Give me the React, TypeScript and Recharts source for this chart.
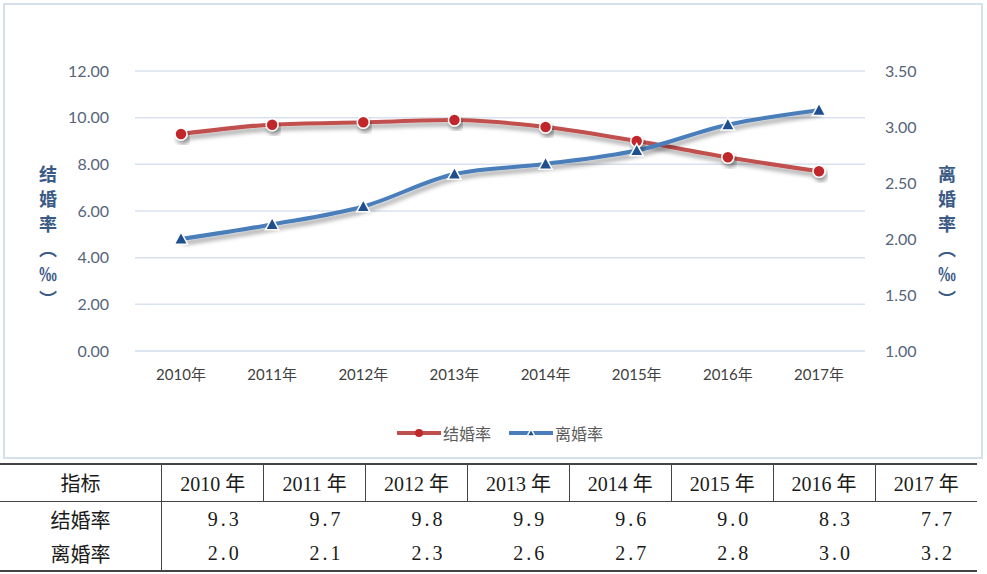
import { LineChart, Line, XAxis, YAxis, CartesianGrid, Legend } from 'recharts';

const years = ['2010年', '2011年', '2012年', '2013年', '2014年', '2015年', '2016年', '2017年'];
const marriageRate = [9.3, 9.7, 9.8, 9.9, 9.6, 9.0, 8.3, 7.7];
const divorceRate = [2.0, 2.13, 2.29, 2.58, 2.67, 2.79, 3.02, 3.15];
const leftTicks = [0, 2, 4, 6, 8, 10, 12];
const rightTicks = [1, 1.5, 2, 2.5, 3, 3.5];

const tableHeaders = ['2010 年', '2011 年', '2012 年', '2013 年', '2014 年', '2015 年', '2016 年', '2017 年'];
const marriageText = ['9.3', '9.7', '9.8', '9.9', '9.6', '9.0', '8.3', '7.7'];
const divorceText = ['2.0', '2.1', '2.3', '2.6', '2.7', '2.8', '3.0', '3.2'];

const data = years.map((y, i) => ({ year: y, marriage: marriageRate[i], divorce: divorceRate[i] }));

const RED = '#c0504d';
const RED_DOT = '#c0282a';
const BLUE = '#4a7ebb';
const BLUE_DOT = '#1f4f8f';
const AXIS_FONT = 'Lato, "Noto Sans CJK SC", sans-serif';
const TABLE_FONT = '"Liberation Serif", "Noto Sans CJK SC", serif';

const Triangle = (props: any) => {
  const { cx, cy, size = 7 } = props;
  if (cx == null || cy == null) return null;
  return (
    <path
      d={`M${cx},${cy - size} L${cx + size * 0.95},${cy + size * 0.75} L${cx - size * 0.95},${cy + size * 0.75} Z`}
      fill={BLUE_DOT}
      stroke="#fff"
      strokeWidth={1.5}
    />
  );
};

const LegendContent = () => (
  <div style={{ display: 'flex', justifyContent: 'center', alignItems: 'center', fontFamily: AXIS_FONT, fontSize: 16, color: '#5b5b5b' }}>
    <svg width={44} height={14}>
      <line x1={0} y1={7} x2={44} y2={7} stroke={RED} strokeWidth={4} />
      <circle cx={22} cy={7} r={4} fill={RED_DOT} />
    </svg>
    <span style={{ marginLeft: 2, marginRight: 18 }}>结婚率</span>
    <svg width={44} height={14}>
      <line x1={0} y1={7} x2={44} y2={7} stroke={BLUE} strokeWidth={4} />
      <Triangle cx={22} cy={7} size={4} />
    </svg>
    <span style={{ marginLeft: 2 }}>离婚率</span>
  </div>
);

const vLabel: React.CSSProperties = {
  position: 'absolute',
  writingMode: 'vertical-rl',
  textOrientation: 'upright',
  fontFamily: '"Noto Sans CJK SC", sans-serif',
  fontSize: 18,
  fontWeight: 600,
  color: '#3b5a86',
  letterSpacing: 7,
};

const cell: React.CSSProperties = { fontFamily: TABLE_FONT, fontSize: 20, color: '#1a1a1a', padding: 0 };

export default function App() {
  return (
    <div style={{ position: 'absolute', left: 0, top: 0, width: 987, height: 574, background: '#fff' }}>
      <div
        style={{
          position: 'absolute',
          left: 3,
          top: 3,
          width: 976,
          height: 452,
          border: '2px solid #d6e0ec',
        }}
      >
        <LineChart width={976} height={452} data={data} margin={{ top: 66, right: 46, left: 60, bottom: 52 }}>
          <defs>
            <filter id="shadow" x="-10%" y="-20%" width="130%" height="160%">
              <feDropShadow dx={2} dy={4} stdDeviation={2} floodColor="#000" floodOpacity={0.35} />
            </filter>
          </defs>
          <CartesianGrid yAxisId="left" vertical={false} stroke="#d9e2ee" strokeWidth={1.5} />
          <XAxis
            dataKey="year"
            padding={{ left: 46, right: 46 }}
            tickLine={false}
            axisLine={{ stroke: '#d9e2ee', strokeWidth: 1.5 }}
            tick={{ fontSize: 15, fill: '#404040', fontFamily: AXIS_FONT }}
            tickMargin={12}
            height={30}
          />
          <YAxis
            yAxisId="left"
            domain={[0, 12]}
            ticks={leftTicks}
            tickFormatter={(v: number) => v.toFixed(2)}
            tickLine={false}
            axisLine={false}
            tick={{ fontSize: 16, fill: '#56657a', fontFamily: AXIS_FONT }}
            tickMargin={20}
            width={70}
          />
          <YAxis
            yAxisId="right"
            orientation="right"
            domain={[1, 3.5]}
            ticks={rightTicks}
            tickFormatter={(v: number) => v.toFixed(2)}
            tickLine={false}
            axisLine={false}
            tick={{ fontSize: 16, fill: '#56657a', fontFamily: AXIS_FONT }}
            tickMargin={14}
            width={70}
          />
          <Legend
            verticalAlign="bottom"
            content={<LegendContent />}
            wrapperStyle={{ bottom: 12 }}
          />
          <Line
            yAxisId="left"
            type="monotone"
            dataKey="marriage"
            stroke={RED}
            strokeWidth={4}
            filter="url(#shadow)"
            dot={{ r: 6, fill: RED_DOT, stroke: '#fff', strokeWidth: 1.5 }}
            isAnimationActive={false}
          />
          <Line
            yAxisId="right"
            type="monotone"
            dataKey="divorce"
            stroke={BLUE}
            strokeWidth={4}
            filter="url(#shadow)"
            dot={<Triangle />}
            isAnimationActive={false}
          />
        </LineChart>
        <div style={{ ...vLabel, left: 30, top: 160 }}>结婚率（‰）</div>
        <div style={{ ...vLabel, left: 929, top: 160 }}>离婚率（‰）</div>
      </div>
      <table
        style={{
          position: 'absolute',
          left: 0,
          top: 463,
          width: 977,
          borderCollapse: 'collapse',
          borderTop: '2px solid #444',
          borderBottom: '2px solid #444',
        }}
      >
        <colgroup>
          <col style={{ width: 162 }} />
          {tableHeaders.map((h) => (
            <col key={h} style={{ width: 102 }} />
          ))}
        </colgroup>
        <tbody>
          <tr style={{ height: 37, borderBottom: '1px solid #444' }}>
            <td style={{ ...cell, textAlign: 'center', borderRight: '1px solid #444' }}>指标</td>
            {tableHeaders.map((h, i) => (
              <td
                key={h}
                style={{ ...cell, textAlign: 'center', borderRight: i < tableHeaders.length - 1 ? '1px solid #444' : 'none' }}
              >
                {h}
              </td>
            ))}
          </tr>
          <tr style={{ height: 36 }}>
            <td style={{ ...cell, textAlign: 'center', borderRight: '1px solid #444' }}>结婚率</td>
            {marriageText.map((v, i) => (
              <td key={i} style={{ ...cell, textAlign: 'right', paddingRight: 22, letterSpacing: 3 }}>
                {v}
              </td>
            ))}
          </tr>
          <tr style={{ height: 34 }}>
            <td style={{ ...cell, textAlign: 'center', borderRight: '1px solid #444' }}>离婚率</td>
            {divorceText.map((v, i) => (
              <td key={i} style={{ ...cell, textAlign: 'right', paddingRight: 22, letterSpacing: 3 }}>
                {v}
              </td>
            ))}
          </tr>
        </tbody>
      </table>
    </div>
  );
}
